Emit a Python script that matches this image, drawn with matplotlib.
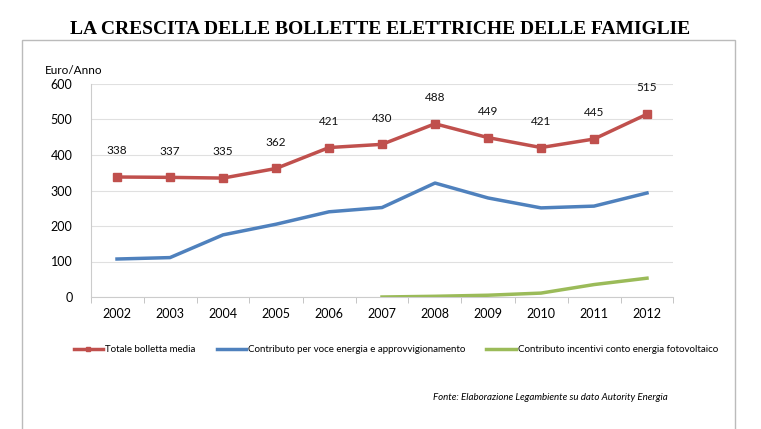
import matplotlib.pyplot as plt
from matplotlib.patches import Rectangle

years = ['2002', '2003', '2004', '2005', '2006', '2007', '2008', '2009', '2010', '2011', '2012']
totale = [338, 337, 335, 362, 421, 430, 488, 449, 421, 445, 515]
energia = [107, 111, 175, 205, 240, 252, 321, 279, 251, 256, 293]
fotovoltaico_years = ['2007', '2008', '2009', '2010', '2011', '2012']
fotovoltaico = [0, 2, 5, 11, 35, 53]

plt.rcParams['font.family'] = ['Lato', 'DejaVu Sans']

W, H = 761, 429
fig = plt.figure(figsize=(W / 100, H / 100), dpi=100)
ax = fig.add_axes([90.5 / W, 1 - 297 / H, (673.5 - 90.5) / W, (297 - 84) / H])

x = list(range(len(years)))
xf = [years.index(y) for y in fotovoltaico_years]

ax.plot(x, totale, color='#C0504D', lw=2.5, marker='s', ms=6, label='Totale bolletta media', zorder=3)
ax.plot(x, energia, color='#4F81BD', lw=2.5, label='Contributo per voce energia e approvvigionamento', zorder=3)
ax.plot(xf, fotovoltaico, color='#9BBB59', lw=2.5, label='Contributo incentivi conto energia fotovoltaico', zorder=3)

for i, v in enumerate(totale):
    ax.annotate(str(v), (i, v), xytext=(0, 15), textcoords='offset points',
                ha='center', va='bottom', fontsize=8.5, color='#111111')

ax.set_xlim(-0.5, len(years) - 0.5)
ax.set_ylim(0, 600)
ax.set_yticks(range(0, 601, 100))
ax.set_xticks(x)
ax.set_xticklabels(years)
ax.set_xticks([i + 0.5 for i in range(-1, len(years))], minor=True)
ax.tick_params(axis='x', which='major', length=0, labelsize=9, pad=8)
ax.tick_params(axis='x', which='minor', length=4, color='#bbbbbb')
ax.tick_params(axis='y', length=0, labelsize=9, pad=13)
ax.grid(axis='y', color='#e0e0e0', lw=0.8)
ax.set_axisbelow(True)
for s in ['top', 'right']:
    ax.spines[s].set_visible(False)
ax.spines['left'].set_color('#cccccc')
ax.spines['bottom'].set_color('#cccccc')

fig.text(45 / W, 1 - 70 / H, 'Euro/Anno', fontsize=8.5, va='center', ha='left')

fig.text(380 / W, 1 - 30 / H, 'LA CRESCITA DELLE BOLLETTE ELETTRICHE DELLE FAMIGLIE',
         family='Liberation Serif', fontweight='bold', fontsize=14, ha='center', va='center')

fig.legend(loc='center', bbox_to_anchor=(0.52, 1 - 350 / H), ncol=3, frameon=False,
           fontsize=7, handlelength=3, handletextpad=0.2, columnspacing=2.2, markerscale=0.6)

fig.text(668 / W, 1 - 397 / H, 'Fonte: Elaborazione Legambiente su dato Autority Energia',
         style='italic', fontsize=7, ha='right', va='center')

fig.add_artist(Rectangle((22 / W, -0.01), (735 - 22) / W, (429 - 40) / H + 0.01,
                         transform=fig.transFigure, fill=False, edgecolor='#bbbbbb', lw=1))

fig.savefig('out.png', dpi=100)
